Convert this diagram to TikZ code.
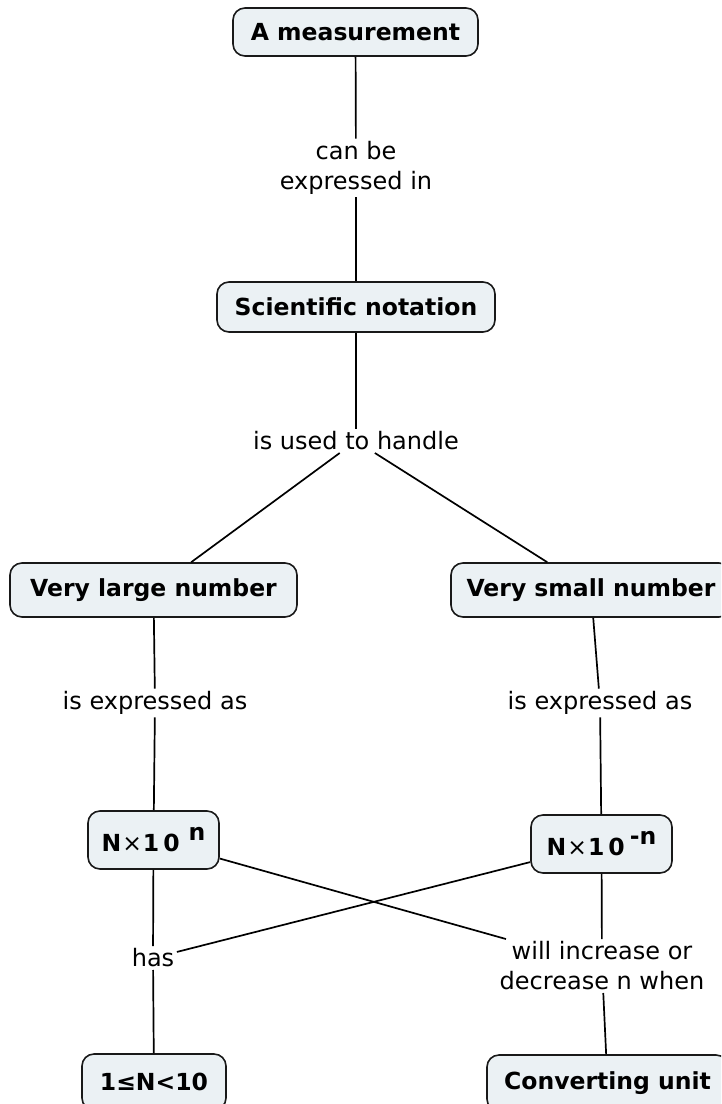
\documentclass[tikz,border=0pt]{standalone}
\usepackage{fontspec}
\setmainfont{DejaVu Sans}
\definecolor{conceptfill}{RGB}{235,241,244}
\definecolor{conceptdraw}{RGB}{25,25,25}
\tikzset{
  concept/.style={draw=conceptdraw, line width=1.6pt, fill=conceptfill,
    rounded corners=12pt, font=\fontsize{23.5}{29}\selectfont\bfseries,
    align=center, inner sep=0pt},
  linklabel/.style={font=\fontsize{24}{30}\selectfont, align=center, inner sep=2.5pt},
  conn/.style={line width=1.7pt, draw=black}
}
\begin{document}
\begin{tikzpicture}[x=1pt,y=-1pt]
\useasboundingbox (0,0) rectangle (721,1104);
\clip (0,0) rectangle (721,1104);
% concepts
\node[concept, minimum width=245pt, minimum height=48pt] (m) at (355.5,32) {A measurement};
\node[concept, minimum width=278pt, minimum height=50pt] (sn) at (356,307) {Scientific notation};
\node[concept, minimum width=287pt, minimum height=54pt] (vl) at (153.5,590) {Very large number};
\node[concept, minimum width=280pt, minimum height=54pt] (vs) at (591,590) {Very small number};
\node[concept, minimum width=131pt, minimum height=58pt] (n1) at (153.5,840)
  {N\hspace{1pt}{\mdseries ×}\hspace{1pt}1\hspace{4pt}0\hspace{9pt}\raisebox{11pt}{n}};
\node[concept, minimum width=141pt, minimum height=58pt] (n2) at (601.5,844)
  {N\hspace{1pt}{\mdseries ×}\hspace{1pt}1\hspace{4pt}0\hspace{5pt}\raisebox{11pt}{-n}};
\node[concept, minimum width=144pt, minimum height=56pt] (r) at (154,1082) {1≤N<10};
\node[concept, minimum width=241pt, minimum height=56pt] (cu) at (607.5,1083) {Converting unit};
% link labels
\node[linklabel] (l1) at (356,168) {can be\\expressed in};
\node[linklabel] (l2) at (356,441) {is used to handle};
\node[linklabel] (l3) at (155,703) {is expressed as};
\node[linklabel] (l4) at (600,703) {is expressed as};
\node[linklabel] (l5) at (153,958) {has};
\node[linklabel] (l6) at (602,966) {will increase or\\decrease n when};
% connectors
\draw[conn] (m) -- (l1);
\draw[conn] (l1) -- (sn);
\draw[conn] (sn) -- (l2);
\draw[conn] (l2) -- (vl);
\draw[conn] (l2) -- (vs);
\draw[conn] (vl) -- (l3);
\draw[conn] (l3) -- (n1);
\draw[conn] (vs) -- (l4);
\draw[conn] (l4) -- (n2);
\draw[conn] (n1) -- (l5);
\draw[conn] (l5) -- (r);
\draw[conn] (n2) -- (l5);
\draw[conn] (n1) -- (l6);
\draw[conn] (n2) -- (l6);
\draw[conn] (l6) -- (cu);
\end{tikzpicture}
\end{document}
